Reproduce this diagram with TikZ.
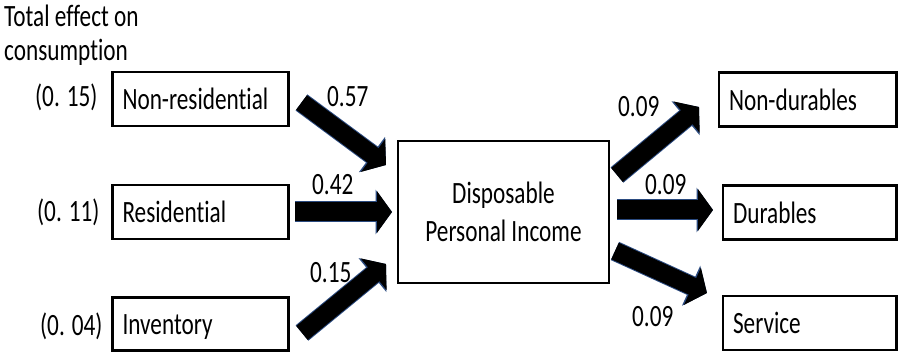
\documentclass[tikz,border=0pt]{standalone}
\usepackage{fontspec}
\setmainfont{Carlito}[FakeStretch=0.75, Ligatures={NoCommon,NoRare,NoContextual}]
\usetikzlibrary{arrows.meta}
\definecolor{edgeblue}{HTML}{2A4A7F}
\begin{document}
\begin{tikzpicture}[x=1pt,y=-1pt,
  every node/.style={font=\fontsize{31}{38}\selectfont, inner sep=0pt},
  box/.style={draw, line width=2.5pt, text height=21.7pt, text depth=0pt, align=left, inner xsep=10pt, minimum height=54pt},
  midbox/.style={draw, line width=2.5pt, align=center, minimum width=211pt, minimum height=142pt},
  lbl/.style={anchor=base west},
  blk/.style={line width=18pt, -{Triangle[width=40pt,length=16pt]},
    preaction={draw=edgeblue, line width=20pt, -{Triangle[width=43pt,length=17.5pt]}}},
  blkh/.style={line width=19pt, -{Triangle[width=41pt,length=15pt]},
    preaction={draw=edgeblue, line width=21pt, -{Triangle[width=44pt,length=16.5pt]}}},
]
\useasboundingbox (0,0) rectangle (898,352);

% header
\node[lbl] (t1) at (4,27) {Total effect on};
\node[lbl] (t2) at (4,61) {consumption};

% left boxes
\node[box, text width=156pt] (nonres) at (200.5,99) {Non-residential};
\node[box, text width=156pt] (res) at (200.5,212) {Residential};
\node[box, text width=156pt, minimum height=53pt] (inv) at (200.5,324) {Inventory};

\node[lbl] (e1) at (35,107) {(0. 15)};
\node[lbl] (e2) at (37,222) {(0. 11)};
\node[lbl] (e3) at (40,336) {(0. 04)};

% middle box
\node[midbox] (dpi) at (503.5,212) {Disposable\\Personal Income};

% right boxes
\node[box, text width=157.5pt] (nondur) at (807.75,99.5) {Non-durables};
\node[box, text width=153.5pt] (dur) at (809.75,212.5) {Durables};
\node[box, text width=153.5pt] (serv) at (809.75,323) {Service};

% arrow coordinates
\coordinate (a1s) at (301.5,102.5);
\coordinate (a1e) at (386,165);
\coordinate (a2s) at (295,212);
\coordinate (a2e) at (392,212);
\coordinate (a3s) at (302,333);
\coordinate (a3e) at (386,264);
\coordinate (b1s) at (617,175);
\coordinate (b1e) at (699,107);
\coordinate (b2s) at (617,210);
\coordinate (b2e) at (713,210);
\coordinate (b3s) at (615,251);
\coordinate (b3e) at (707,293);

\draw[blk] (a1s) -- (a1e);
\draw[blkh] (a2s) -- (a2e);
\draw[blk] (a3s) -- (a3e);
\draw[blk] (b1s) -- (b1e);
\draw[blkh] (b2s) -- (b2e);
\draw[blk] (b3s) -- (b3e);

% coefficient labels
\node[lbl] (c1) at (327,107) {0.57};
\node[lbl] (c2) at (312,195) {0.42};
\node[lbl] (c3) at (310,283) {0.15};
\node[lbl] (d1) at (618,117) {0.09};
\node[lbl] (d2) at (645,195) {0.09};
\node[lbl] (d3) at (632,327) {0.09};
\end{tikzpicture}
\end{document}
